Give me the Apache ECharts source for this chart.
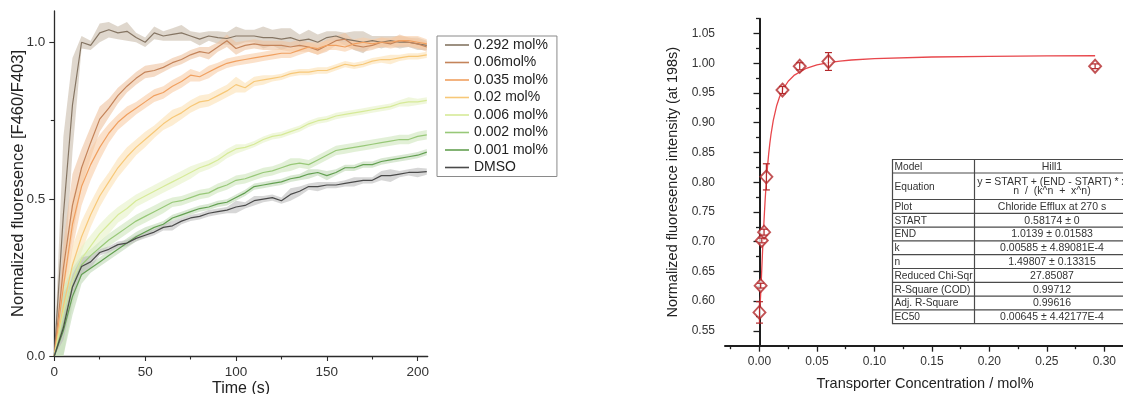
<!DOCTYPE html>
<html>
<head>
<meta charset="utf-8">
<script src="https://cdn.jsdelivr.net/npm/echarts@6/dist/echarts.min.js"></script>
<style>
  html, body { margin: 0; padding: 0; background: #ffffff; }
  #chart { width: 1123px; height: 394px; }
</style>
</head>
<body>
<div id="chart"></div>
<script>
// ---------- Kinetics panel: normalized fluorescence vs time ----------
const timeS = [0, 5, 10, 15, 20, 25, 30, 35, 40, 45, 50, 55, 60, 65, 70, 75, 80, 85, 90, 95,
  100, 105, 110, 115, 120, 125, 130, 135, 140, 145, 150, 155, 160, 165, 170, 175, 180, 185, 190, 195, 200, 205];

const seriesNames = ['0.292 mol%', '0.06mol%', '0.035 mol%', '0.02 mol%', '0.006 mol%', '0.002 mol%', '0.001 mol%', 'DMSO'];

// mean traces
const v292 = [0, 0.45, 0.80, 1.00, 0.99, 1.03, 1.04, 1.03, 1.035, 1.015, 1.00, 1.03, 1.02, 1.025, 1.03, 1.02, 1.01, 1.02, 1.015, 1.012,
  1.02, 1.02, 1.02, 1.015, 1.015, 1.01, 1.015, 1.005, 1.01, 1.00, 1.015, 1.02, 1.01, 1.005, 1.00, 1.005, 1.00, 1.005, 1.00, 1.00, 0.995, 0.99];
const v060 = [0, 0.28, 0.48, 0.60, 0.68, 0.755, 0.79, 0.83, 0.86, 0.885, 0.905, 0.91, 0.92, 0.935, 0.945, 0.96, 0.97, 0.965, 0.985, 1.005,
  0.98, 0.99, 0.995, 0.99, 0.99, 0.99, 0.985, 0.99, 0.985, 0.975, 0.99, 1.005, 1.01, 0.99, 0.985, 0.99, 1.0, 0.995, 1.005, 1.0, 0.995, 0.985];
const v035 = [0, 0.22, 0.42, 0.54, 0.61, 0.665, 0.71, 0.745, 0.77, 0.79, 0.81, 0.83, 0.84, 0.86, 0.875, 0.895, 0.89, 0.905, 0.92, 0.933,
  0.94, 0.945, 0.95, 0.955, 0.96, 0.965, 0.965, 0.975, 0.985, 0.98, 0.99, 0.99, 0.985, 0.995, 1.0, 0.995, 1.0, 1.0, 1.005, 1.005, 1.0, 0.995];
const v020 = [0, 0.16, 0.29, 0.38, 0.45, 0.51, 0.555, 0.60, 0.635, 0.665, 0.69, 0.715, 0.74, 0.76, 0.775, 0.795, 0.81, 0.815, 0.83, 0.845,
  0.865, 0.855, 0.875, 0.88, 0.885, 0.89, 0.90, 0.905, 0.905, 0.91, 0.91, 0.92, 0.93, 0.925, 0.93, 0.94, 0.945, 0.945, 0.95, 0.955, 0.955, 0.96];
const v006 = [0, 0.14, 0.24, 0.31, 0.35, 0.39, 0.42, 0.45, 0.47, 0.495, 0.51, 0.525, 0.54, 0.555, 0.57, 0.585, 0.60, 0.61, 0.625, 0.645,
  0.66, 0.665, 0.675, 0.69, 0.70, 0.705, 0.715, 0.725, 0.74, 0.75, 0.755, 0.765, 0.77, 0.775, 0.78, 0.785, 0.79, 0.795, 0.805, 0.81, 0.81, 0.815];
const v002 = [0, 0.10, 0.22, 0.29, 0.32, 0.345, 0.37, 0.39, 0.41, 0.43, 0.445, 0.46, 0.475, 0.49, 0.495, 0.505, 0.515, 0.52, 0.535, 0.545,
  0.56, 0.565, 0.575, 0.585, 0.59, 0.60, 0.61, 0.615, 0.61, 0.625, 0.64, 0.655, 0.66, 0.665, 0.67, 0.675, 0.68, 0.685, 0.69, 0.69, 0.70, 0.705];
const v001 = [0, 0.08, 0.19, 0.26, 0.28, 0.30, 0.32, 0.34, 0.36, 0.38, 0.395, 0.41, 0.42, 0.44, 0.45, 0.46, 0.47, 0.475, 0.485, 0.49,
  0.505, 0.52, 0.54, 0.545, 0.55, 0.555, 0.565, 0.57, 0.58, 0.585, 0.575, 0.585, 0.60, 0.60, 0.61, 0.61, 0.62, 0.625, 0.63, 0.635, 0.64, 0.65];
const vDMSO = [0, 0.09, 0.22, 0.285, 0.30, 0.33, 0.34, 0.355, 0.36, 0.375, 0.385, 0.395, 0.41, 0.415, 0.43, 0.44, 0.445, 0.455, 0.46, 0.465,
  0.475, 0.48, 0.495, 0.50, 0.505, 0.495, 0.515, 0.525, 0.54, 0.54, 0.545, 0.545, 0.55, 0.555, 0.56, 0.56, 0.575, 0.575, 0.58, 0.585, 0.585, 0.588];

// standard-deviation half widths for the shaded bands
const s292 = [0, 0.25, 0.15, 0.02, 0.015, 0.03, 0.025, 0.02, 0.03, 0.015, 0.015, 0.02, 0.015, 0.02, 0.025, 0.015, 0.02, 0.015, 0.02, 0.02,
  0.03, 0.02, 0.02, 0.035, 0.025, 0.035, 0.03, 0.02, 0.03, 0.025, 0.02, 0.015, 0.02, 0.03, 0.035, 0.015, 0.02, 0.015, 0.02, 0.015, 0.02, 0.015];
const s060 = [0, 0.08, 0.10, 0.06, 0.05, 0.04, 0.03, 0.025, 0.02, 0.02, 0.02, 0.02, 0.015, 0.015, 0.015, 0.015, 0.015, 0.02, 0.015, 0.02,
  0.02, 0.015, 0.015, 0.015, 0.015, 0.015, 0.015, 0.02, 0.015, 0.015, 0.02, 0.015, 0.02, 0.015, 0.015, 0.015, 0.015, 0.015, 0.02, 0.015, 0.015, 0.015];
const s035 = [0, 0.08, 0.08, 0.06, 0.05, 0.04, 0.03, 0.025, 0.025, 0.02, 0.02, 0.02, 0.02, 0.02, 0.02, 0.02, 0.015, 0.02, 0.015, 0.015,
  0.015, 0.015, 0.015, 0.015, 0.015, 0.015, 0.015, 0.015, 0.015, 0.02, 0.015, 0.015, 0.015, 0.015, 0.015, 0.015, 0.015, 0.015, 0.015, 0.015, 0.02, 0.015];
const s020 = [0, 0.06, 0.06, 0.05, 0.04, 0.035, 0.03, 0.03, 0.03, 0.025, 0.025, 0.02, 0.02, 0.025, 0.02, 0.02, 0.02, 0.02, 0.02, 0.02,
  0.025, 0.015, 0.015, 0.015, 0.01, 0.01, 0.01, 0.01, 0.01, 0.01, 0.01, 0.01, 0.01, 0.01, 0.01, 0.01, 0.01, 0.015, 0.01, 0.01, 0.01, 0.01];
const s006 = [0, 0.08, 0.06, 0.04, 0.035, 0.03, 0.03, 0.025, 0.025, 0.02, 0.02, 0.02, 0.02, 0.02, 0.02, 0.02, 0.015, 0.015, 0.015, 0.015,
  0.015, 0.01, 0.01, 0.01, 0.01, 0.01, 0.01, 0.01, 0.01, 0.01, 0.01, 0.01, 0.01, 0.01, 0.01, 0.01, 0.01, 0.01, 0.01, 0.015, 0.01, 0.01];
const s002 = [0, 0.12, 0.06, 0.03, 0.02, 0.02, 0.02, 0.02, 0.02, 0.02, 0.02, 0.02, 0.02, 0.015, 0.015, 0.015, 0.015, 0.015, 0.015, 0.015,
  0.015, 0.015, 0.015, 0.015, 0.015, 0.015, 0.02, 0.015, 0.015, 0.015, 0.015, 0.015, 0.015, 0.015, 0.015, 0.015, 0.015, 0.015, 0.015, 0.015, 0.015, 0.015];
const s001 = [0, 0.12, 0.06, 0.03, 0.015, 0.015, 0.015, 0.015, 0.015, 0.015, 0.015, 0.01, 0.01, 0.01, 0.01, 0.01, 0.01, 0.01, 0.01, 0.01,
  0.01, 0.01, 0.01, 0.01, 0.01, 0.01, 0.01, 0.01, 0.015, 0.01, 0.015, 0.01, 0.01, 0.01, 0.01, 0.01, 0.01, 0.01, 0.01, 0.01, 0.01, 0.01];
const sDMSO = [0, 0.04, 0.04, 0.03, 0.02, 0.01, 0.01, 0.01, 0.01, 0.01, 0.01, 0.01, 0.01, 0.015, 0.01, 0.01, 0.01, 0.01, 0.01, 0.01,
  0.02, 0.01, 0.015, 0.01, 0.01, 0.01, 0.02, 0.015, 0.01, 0.015, 0.01, 0.01, 0.01, 0.015, 0.01, 0.01, 0.015, 0.02, 0.01, 0.01, 0.015, 0.01];

const meanTraces = [v292, v060, v035, v020, v006, v002, v001, vDMSO];
const spreadTraces = [s292, s060, s035, s020, s006, s002, s001, sDMSO];
const lineColors = ['#857563', '#c4845a', '#f0a060', '#f7c878', '#d6ea98', '#98c878', '#64a052', '#4a4a4a'];
const bandColors = ['#c9bdac', '#efc3a0', '#f9cda6', '#fce1b4', '#e6f2c6', '#cfe6bd', '#bfd8b6', '#bdbdbd'];

const timeTicks = [0, 50, 100, 150, 200];
const timeMinorTicks = [25, 75, 125, 175];
const fluoTicks = [0, 0.5, 1.0];
const fluoMinorTicks = [0.25, 0.75];

// ---------- Dose-response panel ----------
const concMol = [0, 0.001, 0.002, 0.004, 0.006, 0.02, 0.035, 0.06, 0.292];
const effluxAt198 = [0.581, 0.626, 0.702, 0.716, 0.809, 0.955, 0.995, 1.003, 0.995];
const effluxErr = [0.018, 0.004, 0.004, 0.005, 0.022, 0.006, 0.006, 0.015, 0.004];

// Hill1 fit curve samples (START 0.58174, END 1.0139, k 0.00585, n 1.49807)
const fitX = [0, 0.0005, 0.001, 0.0015, 0.002, 0.0025, 0.003, 0.0035, 0.004, 0.005, 0.006, 0.007, 0.008, 0.009, 0.010,
  0.012, 0.015, 0.0175, 0.02, 0.025, 0.03, 0.04, 0.05, 0.06, 0.07, 0.08, 0.10, 0.15, 0.20, 0.25, 0.292];
const fitY = [0.5817, 0.5923, 0.6104, 0.6315, 0.6539, 0.6763, 0.6979, 0.7186, 0.7378, 0.7725, 0.8019, 0.8267, 0.8476, 0.8652, 0.8802,
  0.9041, 0.9291, 0.9438, 0.9547, 0.9698, 0.9796, 0.9909, 0.9972, 1.0011, 1.0037, 1.0055, 1.0078, 1.0106, 1.0118, 1.0124, 1.0127];

const concTicks = [0, 0.05, 0.10, 0.15, 0.20, 0.25, 0.30];
const concMinorTicks = [-0.025, 0.025, 0.075, 0.125, 0.175, 0.225, 0.275];
const effTicks = [0.55, 0.60, 0.65, 0.70, 0.75, 0.80, 0.85, 0.90, 0.95, 1.00, 1.05];
const effMinorTicks = [0.575, 0.625, 0.675, 0.725, 0.775, 0.825, 0.875, 0.925, 0.975, 1.025, 1.075];

const tableLabels = ['Model', 'Equation', 'Plot', 'START', 'END', 'k', 'n', 'Reduced Chi-Sqr', 'R-Square (COD)', 'Adj. R-Square', 'EC50'];
const tableValues = ['Hill1', 'y = START + (END - START) * x\nn  /  (k^n  +  x^n)', 'Chloride Efflux at 270 s', '0.58174 \u00b1 0',
  '1.0139 \u00b1 0.01583', '0.00585 \u00b1 4.89081E-4', '1.49807 \u00b1 0.13315', '27.85087', '0.99712', '0.99616', '0.00645 \u00b1 4.42177E-4'];

// ---------- build ----------
const FONT = 'Arial, "Liberation Sans", sans-serif';
const chart = echarts.init(document.getElementById('chart'), null, { renderer: 'canvas' });

const axisLineDark = { show: true, lineStyle: { color: '#2b2b2b', width: 1.3 } };

const series = [];
// shaded bands: one polygon per trace (upper edge forward, lower edge back)
meanTraces.forEach((vals, i) => {
  const sd = spreadTraces[i];
  const bandData = timeS.map((t, j) => [t, Math.max(0, vals[j] - sd[j]), vals[j] + sd[j]]);
  series.push({
    type: 'custom', xAxisIndex: 0, yAxisIndex: 0, silent: true, z: 1,
    data: bandData,
    renderItem: function (params, api) {
      if (params.dataIndex !== 0) return null;
      const upper = bandData.map(d => api.coord([d[0], d[2]]));
      const lower = bandData.map(d => api.coord([d[0], d[1]])).reverse();
      return {
        type: 'polygon',
        shape: { points: upper.concat(lower) },
        style: { fill: bandColors[i], opacity: 0.6 }
      };
    }
  });
});
// mean lines
meanTraces.forEach((vals, i) => {
  series.push({
    type: 'line', name: seriesNames[i], xAxisIndex: 0, yAxisIndex: 0,
    symbol: 'none', z: 3,
    lineStyle: { color: lineColors[i], width: 1.2 },
    itemStyle: { color: lineColors[i] },
    data: timeS.map((t, j) => [t, vals[j]])
  });
});

// dose-response: fit, markers, error bars
series.push({
  type: 'line', xAxisIndex: 2, yAxisIndex: 2, symbol: 'none', z: 2, silent: true,
  lineStyle: { color: '#e8474c', width: 1.3 },
  data: fitX.map((x, i) => [x, fitY[i]])
});
series.push({
  type: 'scatter', xAxisIndex: 2, yAxisIndex: 2, symbol: 'diamond', symbolSize: [12, 13], z: 4,
  itemStyle: { color: '#ffffff', borderColor: '#b3282b', borderWidth: 1.9 },
  data: concMol.map((x, i) => [x, effluxAt198[i]])
});
series.push({
  type: 'custom', xAxisIndex: 2, yAxisIndex: 2, z: 5, silent: true,
  data: concMol.map((x, i) => [x, effluxAt198[i] - effluxErr[i], effluxAt198[i] + effluxErr[i]]),
  renderItem: function (params, api) {
    const lo = api.coord([api.value(0), api.value(1)]);
    const hi = api.coord([api.value(0), api.value(2)]);
    const w = 3.5;
    const st = { stroke: '#b3282b', lineWidth: 1.2 };
    return {
      type: 'group',
      children: [
        { type: 'line', shape: { x1: lo[0], y1: lo[1], x2: hi[0], y2: hi[1] }, style: st },
        { type: 'line', shape: { x1: lo[0] - w, y1: lo[1], x2: lo[0] + w, y2: lo[1] }, style: st },
        { type: 'line', shape: { x1: hi[0] - w, y1: hi[1], x2: hi[0] + w, y2: hi[1] }, style: st }
      ]
    };
  }
});

// fit-results table
const tableLeft = 892.5, tableSplit = 974.5, tableRight = 1132, tableTop = 159.5;
const rowHeights = [13.5, 26.5, 13.8, 13.8, 13.8, 13.8, 13.8, 13.8, 13.8, 13.8, 13.8];
const tableGraphics = [];
let yCursor = tableTop;
const rowTops = [];
rowHeights.forEach(h => { rowTops.push(yCursor); yCursor += h; });
const tableBottom = yCursor;
tableGraphics.push({ type: 'rect', shape: { x: tableLeft, y: tableTop, width: tableRight - tableLeft, height: tableBottom - tableTop },
  style: { fill: '#ffffff', stroke: '#4a4a4a', lineWidth: 1.2 }, z: 10 });
tableGraphics.push({ type: 'line', shape: { x1: tableSplit, y1: tableTop, x2: tableSplit, y2: tableBottom },
  style: { stroke: '#4a4a4a', lineWidth: 1.2 }, z: 11 });
rowTops.slice(1).forEach(y => {
  tableGraphics.push({ type: 'line', shape: { x1: tableLeft, y1: y, x2: tableRight, y2: y },
    style: { stroke: '#4a4a4a', lineWidth: 1.2 }, z: 11 });
});
tableLabels.forEach((lab, i) => {
  const cy = rowTops[i] + rowHeights[i] / 2;
  tableGraphics.push({ type: 'text', x: tableLeft + 2, y: cy + 0.5, z: 12,
    style: { text: lab, font: '10.2px ' + FONT, fill: '#333333', textAlign: 'left', textVerticalAlign: 'middle' } });
  const parts = tableValues[i].split('\n');
  parts.forEach((p, k) => {
    const off = parts.length > 1 ? (k === 0 ? -4.8 : 4.8) : 0;
    tableGraphics.push({ type: 'text', x: 1052, y: cy + 0.5 + off, z: 12,
      style: { text: p, font: '10.5px ' + FONT, fill: '#333333', textAlign: 'center', textVerticalAlign: 'middle' } });
  });
});

const option = {
  animation: false,
  backgroundColor: '#ffffff',
  textStyle: { fontFamily: FONT },
  grid: [
    { left: 54.3, top: 10.9, width: 373.4, height: 345.1, outerBoundsMode: 'none', containLabel: false },
    { left: 725, top: 18.7, width: 400, height: 327, outerBoundsMode: 'none', containLabel: false }
  ],
  legend: {
    data: seriesNames, orient: 'vertical', left: 437, top: 36,
    padding: [2, 9, 2, 8], itemGap: 3.5, itemWidth: 24, itemHeight: 1.6, icon: 'rect',
    borderColor: '#8a8a8a', borderWidth: 1, backgroundColor: '#ffffff',
    textStyle: { fontSize: 14, color: '#222222', lineHeight: 14, fontFamily: FONT }
  },
  xAxis: [
    { gridIndex: 0, type: 'value', min: 0, max: 205.5, position: 'bottom',
      axisLine: axisLineDark, splitLine: { show: false },
      axisTick: { show: true, customValues: timeTicks, length: 5, lineStyle: { color: '#2b2b2b', width: 1.1 } },
      axisLabel: { customValues: timeTicks, fontSize: 13.5, color: '#333333', margin: 9 },
      name: 'Time (s)', nameLocation: 'middle', nameGap: 24.5, nameMoveOverlap: false,
      nameTextStyle: { fontSize: 16, color: '#222222' } },
    { gridIndex: 0, type: 'value', min: 0, max: 205.5, position: 'bottom',
      axisLine: { show: false }, splitLine: { show: false }, axisLabel: { show: false },
      axisTick: { show: true, customValues: timeMinorTicks, length: 3.5, lineStyle: { color: '#2b2b2b', width: 1.1 } } },
    { gridIndex: 1, type: 'value', min: -0.03, max: 0.318, position: 'bottom',
      axisLine: { show: true, lineStyle: { color: '#1e1e1e', width: 2 } }, splitLine: { show: false },
      axisTick: { show: true, customValues: concTicks, length: 6, lineStyle: { color: '#1e1e1e', width: 1.3 } },
      axisLabel: { customValues: concTicks, fontSize: 12, color: '#333333', margin: 10,
        formatter: v => v.toFixed(2) },
      name: 'Transporter Concentration / mol%', nameLocation: 'middle', nameGap: 31, nameMoveOverlap: false,
      nameTextStyle: { fontSize: 14.5, color: '#222222' } },
    { gridIndex: 1, type: 'value', min: -0.03, max: 0.318, position: 'bottom',
      axisLine: { show: false }, splitLine: { show: false }, axisLabel: { show: false },
      axisTick: { show: true, customValues: concMinorTicks, length: 3.5, lineStyle: { color: '#1e1e1e', width: 1.3 } } }
  ],
  yAxis: [
    { gridIndex: 0, type: 'value', min: 0, max: 1.1, position: 'left',
      axisLine: axisLineDark, splitLine: { show: false },
      axisTick: { show: true, customValues: fluoTicks, length: 5, lineStyle: { color: '#2b2b2b', width: 1.1 } },
      axisLabel: { customValues: fluoTicks, fontSize: 13.5, color: '#333333', margin: 9,
        formatter: v => v.toFixed(1) },
      name: 'Normalized fluoresence [F460/F403]', nameLocation: 'middle', nameGap: 27, nameMoveOverlap: false,
      nameTextStyle: { fontSize: 16.5, color: '#222222' } },
    { gridIndex: 0, type: 'value', min: 0, max: 1.1, position: 'left',
      axisLine: { show: false }, splitLine: { show: false }, axisLabel: { show: false },
      axisTick: { show: true, customValues: fluoMinorTicks, length: 3.5, lineStyle: { color: '#2b2b2b', width: 1.1 } } },
    { gridIndex: 1, type: 'value', min: 0.525, max: 1.075, position: 'left',
      axisLine: { show: true, lineStyle: { color: '#1e1e1e', width: 2 } }, splitLine: { show: false },
      axisTick: { show: true, customValues: effTicks, length: 6, lineStyle: { color: '#1e1e1e', width: 1.3 } },
      axisLabel: { customValues: effTicks, fontSize: 12, color: '#333333', margin: 10,
        formatter: v => v.toFixed(2) },
      name: 'Normalized fluoresence intensity (at 198s)', nameLocation: 'middle', nameGap: 45, nameMoveOverlap: false,
      nameTextStyle: { fontSize: 14.5, color: '#222222' } },
    { gridIndex: 1, type: 'value', min: 0.525, max: 1.075, position: 'left',
      axisLine: { show: false }, splitLine: { show: false }, axisLabel: { show: false },
      axisTick: { show: true, customValues: effMinorTicks, length: 3.5, lineStyle: { color: '#1e1e1e', width: 1.3 } } }
  ],
  series: series,
  graphic: { elements: tableGraphics }
};

chart.setOption(option);
</script>
</body>
</html>
